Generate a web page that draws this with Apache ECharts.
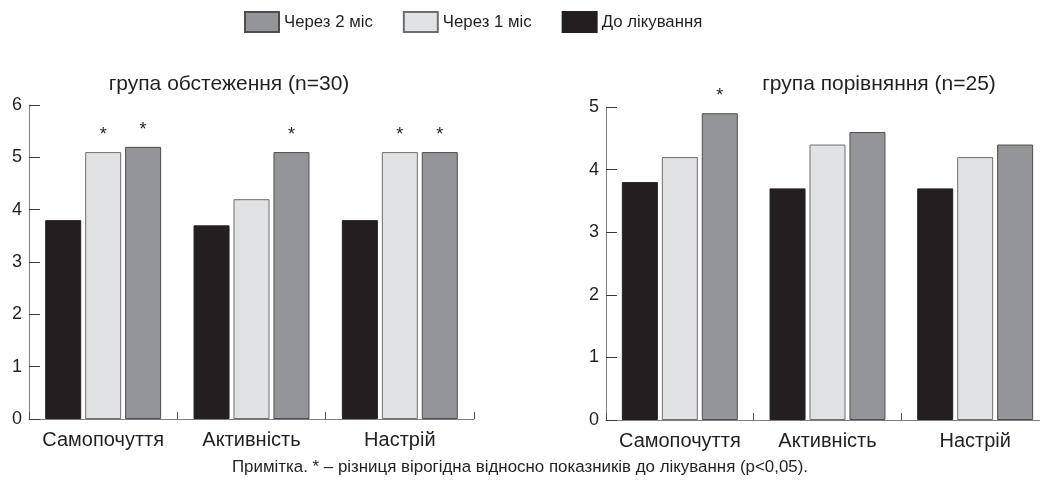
<!DOCTYPE html>
<html>
<head>
<meta charset="utf-8">
<script src="https://cdn.jsdelivr.net/npm/echarts@6/dist/echarts.min.js"></script>
<style>
  html, body { margin: 0; padding: 0; background: #fff; }
  #chart { width: 1040px; height: 483px; }
</style>
</head>
<body>
<div id="chart"></div>
<script>
// Indicators (x categories)
const categories = ['Самопочуття', 'Активність', 'Настрій'];
const seriesNames = ['До лікування', 'Через 1 міс', 'Через 2 міс'];

// Examined group (n=30)
const examBefore = [3.8, 3.7, 3.8];
const exam1m     = [5.1, 4.2, 5.1];
const exam2m     = [5.2, 5.1, 5.1];
// significance flags (p<0.05 vs. before treatment)
const exam1mSig  = [true, false, true];
const exam2mSig  = [true, true, true];

// Comparison group (n=25)
const compBefore = [3.8, 3.7, 3.7];
const comp1m     = [4.2, 4.4, 4.2];
const comp2m     = [4.9, 4.6, 4.4];
const comp1mSig  = [false, false, false];
const comp2mSig  = [true, false, false];

const leftTicks = [0, 1, 2, 3, 4, 5, 6];
const rightTicks = [0, 1, 2, 3, 4, 5];

const FONT = '"Liberation Sans", Arial, Helvetica, sans-serif';
const INK = '#231f20';
const colors = { 'До лікування': '#231f20', 'Через 1 міс': '#e1e2e4', 'Через 2 міс': '#939598' };
const borders = { 'До лікування': '#231f20', 'Через 1 міс': '#6d6e70', 'Через 2 міс': '#4d4d4f' };

function withStars(values, flags) {
  return values.map((v, i) => ({
    value: v,
    label: { show: !!(flags && flags[i]) }
  }));
}

function barSeries(name, values, flags, idx) {
  return {
    name: name,
    type: 'bar',
    xAxisIndex: idx,
    yAxisIndex: idx,
    barWidth: 36,
    barGap: '11%',
    itemStyle: { color: colors[name], borderColor: borders[name], borderWidth: 1 },
    label: {
      show: false,
      position: 'top',
      distance: 8,
      formatter: '*',
      fontFamily: FONT,
      fontSize: 18,
      color: INK
    },
    emphasis: { disabled: true },
    data: withStars(values, flags)
  };
}

function xAxis(idx) {
  return {
    type: 'category',
    gridIndex: idx,
    data: categories,
    axisLine: { lineStyle: { color: '#7d7e80', width: 1 } },
    axisTick: { show: true, inside: true, length: 7, lineStyle: { color: '#4d4d4f' } },
    axisLabel: { fontFamily: FONT, fontSize: 20, color: INK, margin: 11, interval: 0, hideOverlap: false }
  };
}

function yAxis(idx, ticks) {
  return {
    type: 'value',
    gridIndex: idx,
    min: ticks[0],
    max: ticks[ticks.length - 1],
    interval: 1,
    axisLine: { show: true, lineStyle: { color: '#7d7e80', width: 1 } },
    axisTick: { show: true, inside: true, length: 11, lineStyle: { color: '#3a3a3c' } },
    splitLine: { show: false },
    axisLabel: { fontFamily: FONT, fontSize: 18, color: INK, margin: 7 }
  };
}

const chart = echarts.init(document.getElementById('chart'), null, { renderer: 'canvas' });

chart.setOption({
  backgroundColor: '#ffffff',
  animation: false,
  textStyle: { fontFamily: FONT },
  legend: {
    data: ['Через 2 міс', 'Через 1 міс', 'До лікування'],
    top: 6,
    left: 239,
    itemWidth: 34,
    itemHeight: 20,
    itemGap: 30,
    icon: 'rect',
    selectedMode: false,
    textStyle: { fontFamily: FONT, fontSize: 16.8, color: INK }
  },
  title: [
    {
      text: 'група обстеження (n=30)',
      left: 224, top: 69, textAlign: 'center',
      textStyle: { fontFamily: FONT, fontSize: 21, fontWeight: 'normal', color: INK }
    },
    {
      text: 'група порівняння (n=25)',
      left: 874, top: 69, textAlign: 'center',
      textStyle: { fontFamily: FONT, fontSize: 21, fontWeight: 'normal', color: INK }
    },
    {
      text: 'Примітка. * – різниця вірогідна відносно показників до лікування (р<0,05).',
      left: 'center', top: 454,
      textStyle: { fontFamily: FONT, fontSize: 16.9, fontWeight: 'normal', color: INK }
    }
  ],
  grid: [
    { left: 29, top: 105, width: 445, height: 314, outerBoundsMode: 'none' },
    { left: 606, top: 107, width: 443, height: 313, outerBoundsMode: 'none' }
  ],
  xAxis: [xAxis(0), xAxis(1)],
  yAxis: [yAxis(0, leftTicks), yAxis(1, rightTicks)],
  series: [
    barSeries(seriesNames[0], examBefore, null, 0),
    barSeries(seriesNames[1], exam1m, exam1mSig, 0),
    barSeries(seriesNames[2], exam2m, exam2mSig, 0),
    barSeries(seriesNames[0], compBefore, null, 1),
    barSeries(seriesNames[1], comp1m, comp1mSig, 1),
    barSeries(seriesNames[2], comp2m, comp2mSig, 1)
  ]
});
</script>
</body>
</html>
